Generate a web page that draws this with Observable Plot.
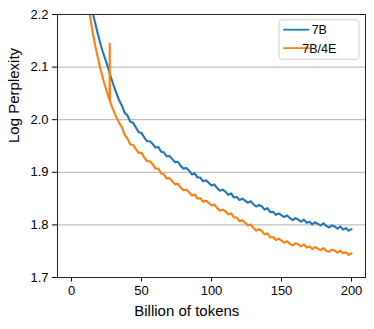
<!DOCTYPE html>
<html><head><meta charset="utf-8">
<script src="https://cdn.jsdelivr.net/npm/d3@7"></script>
<script src="https://cdn.jsdelivr.net/npm/@observablehq/plot@0.6"></script>
<style>body{margin:0;background:#fff} svg{font-family:"Liberation Sans",Arial,sans-serif}</style>
</head><body><div id="chart"></div>
<script>
const seriesNames = ["7B", "7B/4E"];
const seriesColors = ["#1f77b4", "#ff7f0e"];
const xTicks = [0, 50, 100, 150, 200];
const yTicks = [1.7, 1.8, 1.9, 2.0, 2.1, 2.2];
const xLabel = "Billion of tokens";
const yLabel = "Log Perplexity";

const tokens7B = [14,15,16,17,18,19,20,21,22,23,24,25,26,27,28,29,30,31,32,33,34,
36,38,40,42,44,46,48,50,52,54,56,58,60,62,64,66,68,70,72,74,76,78,80,82,84,86,88,90,92,94,96,98,100,
102,104,106,108,110,112,114,116,118,120,122,124,126,128,130,132,134,136,138,140,142,144,146,148,150,
152,154,156,158,160,162,164,166,168,170,172,174,176,178,180,182,184,186,188,190,192,194,196,198,200];
const ppl7B = [2.218,2.206,2.194,2.183,2.172,2.161,2.151,2.141,2.132,2.124,2.116,2.108,2.100,2.091,2.082,2.074,2.066,2.058,2.051,2.044,2.037,
2.027,2.013,2.008,1.996,1.994,1.985,1.976,1.975,1.966,1.959,
1.959,1.954,1.947,1.948,1.939,1.938,1.930,1.931,1.925,1.919,
1.920,1.912,1.907,1.908,1.903,1.896,1.898,1.890,1.890,1.883,
1.885,1.880,1.875,1.877,1.870,1.865,1.867,1.863,1.857,1.860,
1.852,1.853,1.847,1.850,1.846,1.842,1.845,1.839,1.835,1.838,
1.835,1.829,1.832,1.824,1.825,1.819,1.822,1.818,1.815,1.818,
1.813,1.809,1.813,1.810,1.806,1.810,1.804,1.806,1.801,1.805,
1.802,1.799,1.803,1.798,1.795,1.799,1.797,1.793,1.797,1.791,
1.794,1.789,1.792];

const tokens7B4E = [12,13,14,15,16,17,18,19,20,21,22,23,24,25,26,27,27.2,27.3,27.4,28,29,30,31,32,33,34,
36,38,40,42,44,46,48,50,52,54,56,58,60,62,64,66,68,70,72,74,76,78,80,82,84,86,88,90,92,94,96,98,100,
102,104,106,108,110,112,114,116,118,120,122,124,126,128,130,132,134,136,138,140,142,144,146,148,150,
152,154,156,158,160,162,164,166,168,170,172,174,176,178,180,182,184,186,188,190,192,194,196,198,200];
const ppl7B4E = [2.218,2.200,2.184,2.168,2.154,2.140,2.128,2.116,2.104,2.093,2.083,2.073,2.064,2.055,2.047,2.039,2.037,2.145,2.036,2.031,2.024,2.018,2.011,2.005,2.000,1.994,
1.986,1.971,1.964,1.953,1.952,1.944,1.937,1.937,1.928,1.921,
1.921,1.915,1.907,1.907,1.898,1.896,1.888,1.889,1.883,1.877,
1.878,1.871,1.866,1.867,1.862,1.856,1.858,1.850,1.851,1.844,
1.846,1.842,1.837,1.839,1.832,1.827,1.829,1.826,1.820,1.822,
1.814,1.814,1.807,1.809,1.804,1.799,1.801,1.794,1.789,1.792,
1.788,1.782,1.784,1.776,1.777,1.771,1.774,1.770,1.766,1.769,
1.764,1.761,1.765,1.763,1.759,1.763,1.757,1.759,1.754,1.758,
1.755,1.752,1.756,1.751,1.749,1.753,1.751,1.747,1.751,1.746,
1.748,1.743,1.746];

const rows = [
  ...tokens7B.map((t, i) => ({series: seriesNames[0], t, v: ppl7B[i]})),
  ...tokens7B4E.map((t, i) => ({series: seriesNames[1], t, v: ppl7B4E[i]}))
];

const plot = Plot.plot({
  width: 374, height: 329,
  marginLeft: 57, marginRight: 9, marginTop: 14, marginBottom: 52,
  style: {fontFamily: "Liberation Sans, Arial, sans-serif", fontSize: "13px", color: "#000", background: "#fff"},
  x: {domain: [-10, 210], ticks: xTicks, tickFormat: d => String(d), label: null, tickSize: 4.5, tickPadding: 3.5},
  y: {domain: [1.7, 2.2], ticks: yTicks, tickFormat: d3.format(".1f"), label: null, tickSize: 5, tickPadding: 4},
  color: {domain: seriesNames, range: seriesColors},
  marks: [
    Plot.gridY(yTicks.slice(1, -1), {stroke: "#b0b0b0", strokeOpacity: 1, strokeWidth: 1}),
    Plot.line(rows, {x: "t", y: "v", z: "series", stroke: "series", strokeWidth: 2.1, clip: true}),
    Plot.frame({stroke: "#222", strokeWidth: 1}),
    Plot.text([xLabel], {frameAnchor: "bottom", lineAnchor: "middle", dx: -24.7, dy: 33.5, fontSize: 15, fill: "#000"}),
    Plot.text([yLabel], {frameAnchor: "left", lineAnchor: "middle", rotate: -90, dx: -43, dy: -3, fontSize: 15, fill: "#000"})
  ]
});

// legend
const svg = d3.select(plot);
const lg = svg.append("g");
lg.append("rect").attr("x", 279).attr("y", 19.8).attr("width", 80).attr("height", 39.5).attr("rx", 3)
  .attr("fill", "#fff").attr("fill-opacity", 0.8).attr("stroke", "#d0d0d0");
seriesNames.forEach((name, i) => {
  const cy = 29.7 + i * 18.4;
  lg.append("line").attr("x1", 283.3).attr("x2", 309.3).attr("y1", cy).attr("y2", cy)
    .attr("stroke", seriesColors[i]).attr("stroke-width", 1.8);
  lg.append("text").attr("x", 319.3).attr("y", cy).attr("dy", "0.36em").attr("fill", "#000")
    .style("font-family", "Liberation Sans, Arial, sans-serif").style("font-size", "12.5px").text(name);
});

document.getElementById("chart").appendChild(plot);
</script>
</body></html>
